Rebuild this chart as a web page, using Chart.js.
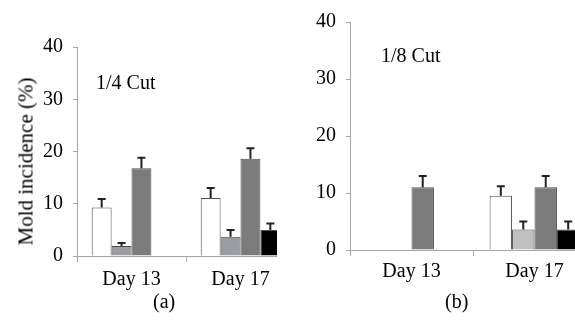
<!DOCTYPE html>
<html>
<head>
<meta charset="utf-8">
<script src="https://cdn.jsdelivr.net/npm/chart.js@4/dist/chart.umd.min.js"></script>
<style>
  body { margin: 0; background: #fff; width: 575px; height: 335px; position: relative; overflow: hidden; font-family: "Liberation Serif", serif; }
  .panel { position: absolute; top: 0; height: 300px; overflow: hidden; }
  .txt { position: absolute; font-size: 20px; color: #000; white-space: nowrap; }
</style>
</head>
<body>
<div class="panel" style="left:0;width:277px"><canvas id="chartA" width="300" height="300"></canvas></div>
<div class="panel" style="left:290px;width:285px"><canvas id="chartB" width="310" height="300"></canvas></div>
<div class="txt" style="left:-74px;top:149px;transform:rotate(-90deg);width:200px;text-align:center;font-size:21px">Mold incidence (%)</div>
<div class="txt" style="left:96px;top:71px">1/4 Cut</div>
<div class="txt" style="left:381px;top:44px">1/8 Cut</div>
<div class="txt" style="left:153px;top:290px">(a)</div>
<div class="txt" style="left:445px;top:290px">(b)</div>
<script>
// categories
var days = ['Day 13', 'Day 17'];
var yTicks = [0, 10, 20, 30, 40];

// 1/4 cut
var quarterWhite = [9.3, 11.1];
var quarterWhiteErr = [1.6, 1.9];
var quarterGray = [1.9, 3.7];
var quarterGrayErr = [0.6, 1.3];
var quarterDark = [16.8, 18.6];
var quarterDarkErr = [2.0, 2.0];
var quarterBlack = [null, 5.0];
var quarterBlackErr = [null, 1.2];

// 1/8 cut
var eighthWhite = [null, 9.5];
var eighthWhiteErr = [null, 1.7];
var eighthGray = [null, 3.6];
var eighthGrayErr = [null, 1.4];
var eighthDark = [11.0, 11.0];
var eighthDarkErr = [2.0, 2.0];
var eighthBlack = [null, 3.6];
var eighthBlackErr = [null, 1.4];

var axisColor = '#a6a6a6';

// draws the upward error bars on top of each bar
var errorBars = {
  id: 'errorBars',
  afterDatasetsDraw: function(chart) {
    var ctx = chart.ctx;
    var yScale = chart.scales.y;
    ctx.save();
    ctx.strokeStyle = '#222';
    ctx.lineWidth = 2;
    chart.data.datasets.forEach(function(ds, di) {
      var meta = chart.getDatasetMeta(di);
      meta.data.forEach(function(bar, i) {
        var v = ds.data[i], e = ds.errors[i];
        if (v == null || e == null) return;
        var yTop = yScale.getPixelForValue(v + e);
        ctx.beginPath();
        ctx.moveTo(bar.x, bar.y);
        ctx.lineTo(bar.x, yTop);
        ctx.moveTo(bar.x - 4, yTop);
        ctx.lineTo(bar.x + 4, yTop);
        ctx.stroke();
      });
    });
    ctx.restore();
  }
};

function makeChart(id, sets, colors, yWidth, pad, dayPad) {
  var datasets = sets.map(function(s, i) {
    return {
      data: s[0],
      errors: s[1],
      backgroundColor: colors[i],
      borderColor: '#4d4d4d',
      borderWidth: 1,
      barPercentage: 1,
      categoryPercentage: 0.73
    };
  });
  return new Chart(document.getElementById(id), {
    type: 'bar',
    data: { labels: days, datasets: datasets },
    options: {
      responsive: false,
      animation: false,
      layout: { padding: pad },
      plugins: { legend: { display: false }, tooltip: { enabled: false } },
      scales: {
        x: {
          grid: { offset: true, drawOnChartArea: false, tickLength: 6, color: axisColor },
          border: { color: axisColor },
          ticks: { color: '#000', padding: dayPad, font: { family: 'Liberation Serif', size: 20 } },
          afterFit: function(s) { s.height = 34; }
        },
        y: {
          min: 0,
          max: 40,
          afterBuildTicks: function(s) { s.ticks = yTicks.map(function(v) { return { value: v }; }); },
          grid: { drawOnChartArea: false, tickLength: 4, color: axisColor },
          border: { color: axisColor },
          ticks: { color: '#000', padding: 10, font: { family: 'Liberation Serif', size: 20 } },
          afterFit: function(s) { s.width = yWidth; }
        }
      }
    },
    plugins: [errorBars]
  });
}

makeChart('chartA',
  [[quarterWhite, quarterWhiteErr], [quarterGray, quarterGrayErr], [quarterDark, quarterDarkErr], [quarterBlack, quarterBlackErr]],
  ['#ffffff', '#9c9ca4', '#7b7b7b', '#000000'],
  77, { left: 0, top: 47, right: 5, bottom: 10 }, 6);

makeChart('chartB',
  [[eighthWhite, eighthWhiteErr], [eighthGray, eighthGrayErr], [eighthDark, eighthDarkErr], [eighthBlack, eighthBlackErr]],
  ['#ffffff', '#c0c0c0', '#7b7b7b', '#000000'],
  60, { left: 0, top: 21, right: 4, bottom: 16 }, 4);
</script>
</body>
</html>
